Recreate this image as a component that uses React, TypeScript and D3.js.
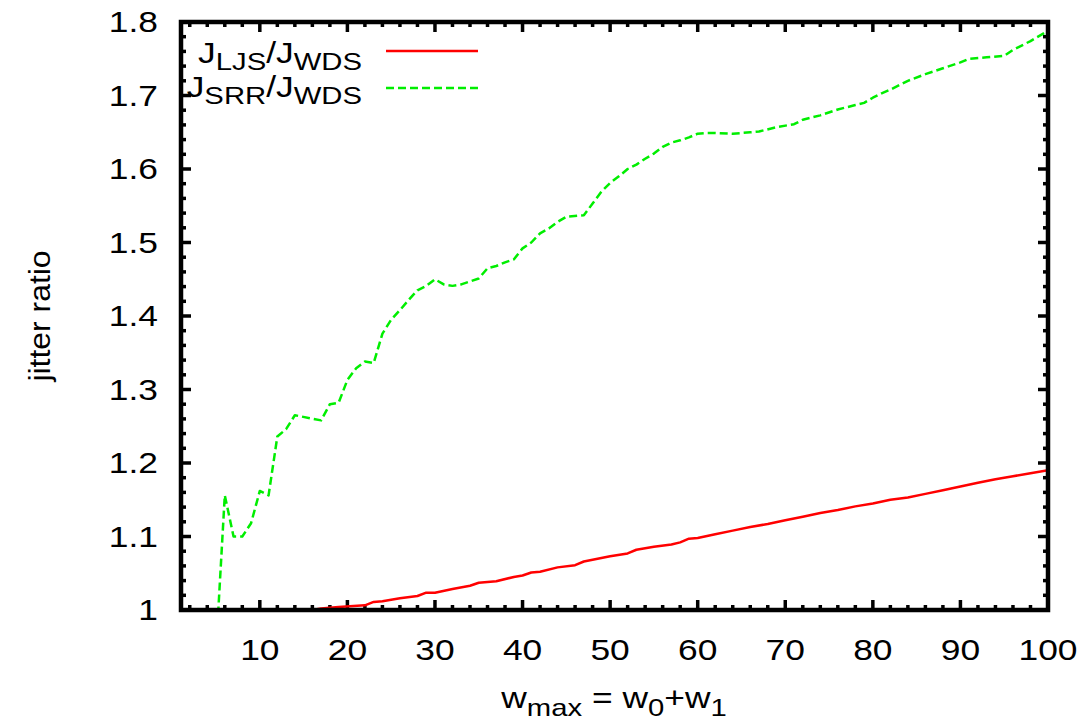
import React from "react";
import * as d3 from "d3";

const W = 1088;
const H = 726;

// J_SRR / J_WDS  (w, ratio)
const srrW = [5, 6, 7, 8, 9, 10, 11, 12, 13, 14, 17, 18, 19, 20, 21, 22, 23, 24, 25, 26, 27, 28, 29, 30, 31, 32, 33, 34, 35, 36, 37, 38, 39, 40, 41, 42, 43, 44, 45, 47, 48, 49, 50, 51, 52, 53, 54, 55, 56, 57, 58, 59, 60, 61, 62, 64, 66, 67, 69, 71, 72, 74, 76, 78, 79, 80, 81, 82, 84, 86, 88, 90, 91, 93, 95, 96, 98, 100];
const srrV = [0.945, 1.156, 1.1, 1.1, 1.118, 1.162, 1.156, 1.236, 1.246, 1.265, 1.258, 1.28, 1.282, 1.313, 1.329, 1.338, 1.336, 1.376, 1.395, 1.408, 1.422, 1.435, 1.441, 1.45, 1.443, 1.441, 1.443, 1.447, 1.451, 1.465, 1.468, 1.473, 1.477, 1.492, 1.5, 1.5125, 1.519, 1.528, 1.535, 1.537, 1.553, 1.569, 1.581, 1.59, 1.6, 1.606, 1.614, 1.621, 1.63, 1.636, 1.639, 1.643, 1.648, 1.649, 1.649, 1.648, 1.65, 1.651, 1.657, 1.661, 1.667, 1.673, 1.681, 1.687, 1.69, 1.697, 1.703, 1.708, 1.72, 1.729, 1.737, 1.745, 1.75, 1.752, 1.754, 1.762, 1.774, 1.788];

// J_LJS / J_WDS  (w, ratio)
const ljsW = [16, 17, 19, 22, 23, 24, 26, 28, 29, 30, 32, 34, 35, 36, 37, 39, 40, 41, 42, 44, 46, 47, 50, 52, 53, 55, 57, 58, 59, 60, 62, 64, 66, 68, 70, 72, 74, 76, 78, 80, 82, 84, 86, 88, 90, 92, 94, 96, 98, 100];
const ljsV = [1.0, 1.002, 1.004, 1.0064, 1.011, 1.012, 1.016, 1.019, 1.0236, 1.0236, 1.0286, 1.033, 1.037, 1.038, 1.039, 1.045, 1.047, 1.051, 1.052, 1.058, 1.061, 1.066, 1.073, 1.077, 1.082, 1.086, 1.089, 1.092, 1.097, 1.098, 1.103, 1.108, 1.113, 1.117, 1.122, 1.127, 1.132, 1.136, 1.141, 1.145, 1.15, 1.153, 1.158, 1.163, 1.168, 1.173, 1.178, 1.182, 1.186, 1.19];

const xTicks = [10, 20, 30, 40, 50, 60, 70, 80, 90, 100];
const yTicks = [1, 1.1, 1.2, 1.3, 1.4, 1.5, 1.6, 1.7, 1.8];
const yTickLabels = ["1", "1.1", "1.2", "1.3", "1.4", "1.5", "1.6", "1.7", "1.8"];

const FONT = "'Liberation Sans', Arial, Helvetica, sans-serif";
const FS = 29;
const SUB = 24;
const SX = 1.22;

function WText(props: {
  x: number;
  y: number;
  anchor?: string;
  rotate?: number;
  sx?: number;
  dy?: string;
  children: React.ReactNode;
}) {
  const { x, y, anchor = "start", rotate = 0, sx = SX, dy, children } = props;
  return (
    <g transform={`translate(${x},${y}) rotate(${rotate}) scale(${sx},1)`}>
      <text x={0} y={0} dy={dy} textAnchor={anchor} fontSize={FS} fill="#000">
        {children}
      </text>
    </g>
  );
}

export default function App() {
  const left = 181, right = 1048, top = 22, bottom = 610;
  const x = d3.scaleLinear().domain([1, 100]).range([left, right]);
  const y = d3.scaleLinear().domain([1, 1.8]).range([bottom, top]);

  const line = d3
    .line<[number, number]>()
    .x((d) => x(d[0]))
    .y((d) => y(d[1]));

  const srr: [number, number][] = srrW.map((w, i) => [w, srrV[i]]);
  const ljs: [number, number][] = ljsW.map((w, i) => [w, ljsV[i]]);

  const xMinor = d3.range(2, 100, 2).filter((v) => v % 10 !== 0);
  const yMinor = d3.range(0, 41).map((i) => 1 + i * 0.02).filter((_, i) => i % 5 !== 0);

  const majLen = 10;
  const minLen = 5;
  const tickW = 3.5;

  return (
    <svg
      width={W}
      height={H}
      style={{ position: "absolute", left: 0, top: 0, background: "#fff" }}
      fontFamily={FONT}
    >
      <defs>
        <clipPath id="plotclip">
          <rect x={left} y={top} width={right - left} height={bottom - top} />
        </clipPath>
      </defs>
      <rect x={0} y={0} width={W} height={H} fill="#fff" />

      {/* ticks */}
      <g stroke="#000" strokeWidth={tickW}>
        {xTicks.map((t) => (
          <g key={"xt" + t}>
            <line x1={x(t)} x2={x(t)} y1={bottom} y2={bottom - majLen} />
            <line x1={x(t)} x2={x(t)} y1={top} y2={top + majLen} />
          </g>
        ))}
        {xMinor.map((t) => (
          <g key={"xm" + t}>
            <line x1={x(t)} x2={x(t)} y1={bottom} y2={bottom - minLen} />
            <line x1={x(t)} x2={x(t)} y1={top} y2={top + minLen} />
          </g>
        ))}
        {yTicks.map((t) => (
          <g key={"yt" + t}>
            <line x1={left} x2={left + majLen} y1={y(t)} y2={y(t)} />
            <line x1={right} x2={right - majLen} y1={y(t)} y2={y(t)} />
          </g>
        ))}
        {yMinor.map((t, i) => (
          <g key={"ym" + i}>
            <line x1={left} x2={left + minLen} y1={y(t)} y2={y(t)} />
            <line x1={right} x2={right - minLen} y1={y(t)} y2={y(t)} />
          </g>
        ))}
      </g>

      {/* data */}
      <g clipPath="url(#plotclip)" fill="none" strokeWidth={2.5} strokeLinejoin="round">
        <path d={line(ljs) || ""} stroke="#ff0000" />
        <path d={line(srr) || ""} stroke="#00ee00" strokeDasharray="8 4" />
      </g>

      {/* frame */}
      <rect
        x={left}
        y={top}
        width={right - left}
        height={bottom - top}
        fill="none"
        stroke="#000"
        strokeWidth={4.5}
      />

      {/* tick labels */}
      {yTicks.map((t, i) => (
        <WText key={"yl" + t} x={158} y={y(t)} dy="0.36em" anchor="end">
          {yTickLabels[i]}
        </WText>
      ))}
      {xTicks.map((t) => (
        <WText key={"xl" + t} x={x(t)} y={660} anchor="middle">
          {String(t)}
        </WText>
      ))}

      {/* axis titles */}
      <WText x={50} y={316} rotate={-90} sx={1.1} anchor="middle">
        jitter ratio
      </WText>
      <WText x={614} y={708} anchor="middle">
        w<tspan fontSize={SUB} dy={8}>max</tspan>
        <tspan dy={-8}> = w</tspan>
        <tspan fontSize={SUB} dy={8}>0</tspan>
        <tspan dy={-8}>+w</tspan>
        <tspan fontSize={SUB} dy={8}>1</tspan>
      </WText>

      {/* legend */}
      <WText x={362} y={63} anchor="end">
        J<tspan fontSize={SUB} dy={7}>LJS</tspan>
        <tspan dy={-7}>/J</tspan>
        <tspan fontSize={SUB} dy={7}>WDS</tspan>
      </WText>
      <line x1={386} x2={478} y1={51} y2={51} stroke="#ff0000" strokeWidth={2.5} />
      <WText x={362} y={97} anchor="end">
        J<tspan fontSize={SUB} dy={7}>SRR</tspan>
        <tspan dy={-7}>/J</tspan>
        <tspan fontSize={SUB} dy={7}>WDS</tspan>
      </WText>
      <line
        x1={386}
        x2={478}
        y1={88}
        y2={88}
        stroke="#00ee00"
        strokeWidth={2.5}
        strokeDasharray="8 4"
      />
    </svg>
  );
}
